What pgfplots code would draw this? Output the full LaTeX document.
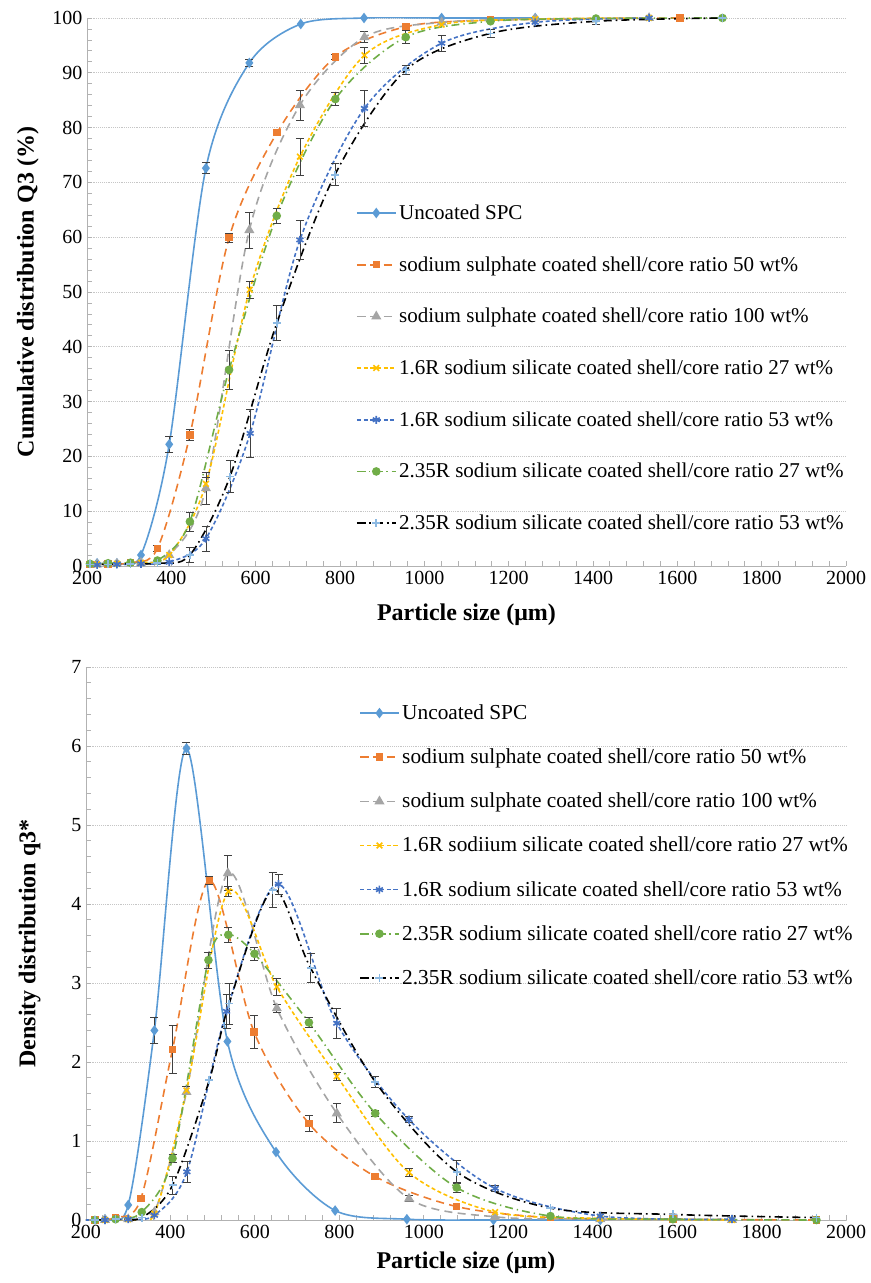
\documentclass[border=0pt]{standalone}
\usepackage{fontspec}
\setmainfont{Liberation Serif}
\usepackage{pgfplots}
\pgfplotsset{compat=1.18}
\definecolor{cA}{HTML}{5B9BD5}
\definecolor{cB}{HTML}{ED7D31}
\definecolor{cC}{HTML}{A5A5A5}
\definecolor{cD}{HTML}{FFC000}
\definecolor{cE}{HTML}{4472C4}
\definecolor{cF}{HTML}{70AD47}
\begin{document}
\begin{tikzpicture}
\path (0pt,0pt) rectangle (652.5pt,962.25pt);
\pgfplotsset{
  common/.style={
    scale only axis,
    axis lines*=left,
    axis line style={gray!60, line width=0.6pt},
    tick style={gray!60, line width=0.6pt},
    tick align=inside,
    major tick length=4pt, minor tick length=4pt,
    xmin=200, xmax=2000, xtick distance=200, minor x tick num=4,
    minor y tick num=4,
    ymajorgrids, grid style={densely dotted, gray!45, line width=0.5pt},
    tick label style={font=\fontsize{15}{18}\selectfont},
    /pgf/number format/assume math mode=true,
    /pgf/number format/set thousands separator={},
    label style={font=\bfseries\fontsize{18}{21}\selectfont},
    legend cell align=left,
    legend image code/.code={\draw[mark repeat=2,mark phase=2,##1] plot coordinates {(0pt,0pt) (14.5pt,0pt) (29pt,0pt)};},
    every axis plot/.append style={line width=1.2pt, smooth, tension=0.5},
    error bars/y dir=both, error bars/y explicit,
    error bars/error bar style={draw=black!75, line width=0.6pt, solid},
    error bars/error mark options={draw=black!75, rotate=90, mark size=3pt, line width=0.6pt, solid},
  },
  sA/.style={cA, mark=diamond*, mark size=3pt, mark options={solid}},
  sB/.style={cB, dash pattern=on 6pt off 4pt, mark=square*, mark size=2.2pt, mark options={solid}},
  sC/.style={cC, dash pattern=on 6pt off 4pt, mark=triangle*, mark size=3.2pt, mark options={solid}},
  sD/.style={cD, dash pattern=on 3pt off 2pt, mark=x, mark size=3pt, mark options={solid}},
  sE/.style={cE, dash pattern=on 3pt off 2pt, mark=asterisk, mark size=3pt, mark options={solid}},
  sF/.style={cF, dash pattern=on 6pt off 3pt on 1pt off 3pt, mark=*, mark size=2.6pt, mark options={solid}},
  sG/.style={black, dash pattern=on 6pt off 3pt on 1.2pt off 3pt, mark=+, mark size=3pt, mark options={solid, cA!70}},
  eb/.style={forget plot, draw=none, mark=none},
}
% ---------------- Top: cumulative ----------------
\begin{axis}[common, at={(65.25pt,537.75pt)}, anchor=south west,
  width=569.25pt, height=411pt,
  ymin=0, ymax=100, ytick distance=10,
  xlabel={Particle size (μm)}, ylabel={Cumulative distribution Q3 (\%)},
  xlabel style={at={(axis description cs:0.5,-0.0894)}, anchor=center},
  ylabel style={at={(axis description cs:-0.078,0.5)}, anchor=center},
  legend style={at={(0.349,0.6695)}, anchor=north west, draw=none, fill=none,
    font=\fontsize{15.8}{19}\selectfont, row sep=22.3pt, cells={anchor=west}},
]
\addplot[sA] coordinates {(224,0.5)(271,0.5)(328,2.0)(395,22.2)(482,72.6)(585,91.8)(707,98.9)(857,100)(1041,100)(1263,100)};
\addlegendentry{Uncoated SPC}
\addplot[sB] coordinates {(207,0.3)(250,0.4)(303,0.6)(367,3.2)(444,23.9)(537,59.9)(651,79.1)(789,92.9)(956,98.4)(1157,99.6)(1606,100)};
\addlegendentry{sodium sulphate coated shell/core ratio 50 wt\%}
\addplot[sC] coordinates {(224,0.3)(271,0.4)(328,0.6)(395,2.0)(482,14.2)(585,61.3)(705,84.1)(858,96.5)(1041,99.2)(1263,99.8)(1533,100)};
\addlegendentry{sodium sulphate coated shell/core ratio 100 wt\%}
\addplot[sD] coordinates {(224,0.3)(271,0.4)(328,0.6)(395,2.0)(482,15.0)(586,50.4)(705,74.7)(858,93.2)(1041,98.8)(1263,99.8)(1533,100)};
\addlegendentry{1.6R sodium silicate coated shell/core ratio 27 wt\%}
\addplot[sE] coordinates {(224,0.2)(271,0.3)(328,0.4)(395,0.7)(482,5.0)(587,24.2)(705,59.5)(858,83.5)(1041,95.4)(1263,99.2)(1533,100)};
\addlegendentry{1.6R sodium silicate coated shell/core ratio 53 wt\%}
\addplot[sF] coordinates {(207,0.4)(250,0.5)(303,0.6)(367,1.0)(444,8.1)(537,35.8)(650,63.9)(789,85.2)(956,96.5)(1157,99.4)(1407,99.9)(1707,100)};
\addlegendentry{2.35R sodium silicate coated shell/core ratio 27 wt\%}
\addplot[sG] coordinates {(207,0.3)(250,0.3)(303,0.4)(367,0.5)(444,2.0)(539,16.3)(650,44.3)(788,71.4)(956,90.5)(1157,97.2)(1407,99.4)(1707,100)};
\addlegendentry{2.35R sodium silicate coated shell/core ratio 53 wt\%}
% error bars
\addplot[eb] coordinates {(395,22.2)+-(0,1.5) (482,72.6)+-(0,1.0) (585,91.8)+-(0,0.6)};
\addplot[eb] coordinates {(367,3.2)+-(0,0.6) (444,23.9)+-(0,1.0) (537,59.9)+-(0,0.8) (651,79.1)+-(0,0.6) (789,92.9)+-(0,0.5)};
\addplot[eb] coordinates {(482,14.2)+-(0,2.9) (585,61.3)+-(0,3.3) (705,84.1)+-(0,2.7) (858,96.5)+-(0,1.0)};
\addplot[eb] coordinates {(482,15.0)+-(0,1.2) (586,50.4)+-(0,1.5) (705,74.7)+-(0,3.4) (858,93.2)+-(0,1.5)};
\addplot[eb] coordinates {(482,5.0)+-(0,2.3) (587,24.2)+-(0,4.4) (705,59.5)+-(0,3.6) (858,83.5)+-(0,3.3) (1041,95.4)+-(0,1.5)};
\addplot[eb] coordinates {(444,8.1)+-(0,1.7) (537,35.8)+-(0,3.5) (650,63.9)+-(0,1.4) (789,85.2)+-(0,1.2) (956,96.5)+-(0,1.2)};
\addplot[eb] coordinates {(444,2.0)+-(0,1.4) (539,16.3)+-(0,2.9) (650,44.3)+-(0,3.2) (788,71.4)+-(0,2.0) (956,90.5)+-(0,0.8) (1157,97.2)+-(0,0.8) (1407,99.4)+-(0,0.6)};
\end{axis}
% ---------------- Bottom: density ----------------
\begin{axis}[common, at={(64.5pt,47.25pt)}, anchor=south west,
  width=570pt, height=414.75pt,
  ymin=0, ymax=7, ytick distance=1,
  xlabel={Particle size (μm)}, ylabel={Density distribution q3*},
  xlabel style={at={(axis description cs:0.5,-0.0778)}, anchor=center},
  ylabel style={at={(axis description cs:-0.074,0.5)}, anchor=center},
  legend style={at={(0.354,0.942)}, anchor=north west, draw=none, fill=none,
    font=\fontsize{16}{19}\selectfont, row sep=16.5pt, cells={anchor=west}},
]
\addplot[sA] coordinates {(198,0)(245,0.01)(300,0.19)(362,2.4)(438,5.97)(535,2.26)(650,0.86)(790,0.12)(960,0.01)(1165,0)(1418,0)};
\addlegendentry{Uncoated SPC}
\addplot[sB] coordinates {(221,0)(270,0.03)(330,0.27)(405,2.16)(492,4.30)(598,2.38)(728,1.22)(885,0.55)(1078,0.17)(1300,0.03)(1590,0.01)(1930,0)};
\addlegendentry{sodium sulphate coated shell/core ratio 50 wt\%}
\addplot[sC] coordinates {(198,0)(245,0)(300,0.01)(362,0.1)(438,1.62)(536,4.39)(652,2.68)(794,1.35)(965,0.27)(1169,0.04)(1418,0.01)(1730,0)};
\addlegendentry{sodium sulphate coated shell/core ratio 100 wt\%}
\addplot[sD] coordinates {(198,0)(245,0)(300,0.01)(362,0.08)(438,1.64)(537,4.16)(652,2.95)(794,1.82)(965,0.6)(1169,0.1)(1418,0.02)(1730,0)};
\addlegendentry{1.6R sodiium silicate coated shell/core ratio 27 wt\%}
\addplot[sE] coordinates {(198,0)(245,0)(300,0.01)(362,0.06)(439,0.61)(533,2.64)(656,4.25)(794,2.49)(965,1.27)(1169,0.4)(1418,0.05)(1730,0.01)};
\addlegendentry{1.6R sodium silicate coated shell/core ratio 53 wt\%}
\addplot[sF] coordinates {(221,0)(270,0.01)(332,0.1)(405,0.78)(490,3.29)(537,3.61)(599,3.37)(728,2.5)(885,1.35)(1078,0.41)(1300,0.05)(1590,0.01)(1930,0)};
\addlegendentry{2.35R sodium silicate coated shell/core ratio 27 wt\%}
\addplot[sG] coordinates {(221,0)(270,0.01)(332,0.03)(405,0.44)(492,1.77)(539,2.74)(642,4.18)(732,3.19)(885,1.75)(1078,0.61)(1300,0.15)(1590,0.07)(1930,0.03)};
\addlegendentry{2.35R sodium silicate coated shell/core ratio 53 wt\%}
% error bars
\addplot[eb] coordinates {(362,2.4)+-(0,0.17) (438,5.97)+-(0,0.08)};
\addplot[eb] coordinates {(405,2.16)+-(0,0.3) (492,4.30)+-(0,0.05) (598,2.38)+-(0,0.21) (728,1.22)+-(0,0.1) (885,0.55)+-(0,0.04)};
\addplot[eb] coordinates {(536,4.39)+-(0,0.22) (652,2.68)+-(0,0.05) (794,1.35)+-(0,0.12) (965,0.27)+-(0,0.04)};
\addplot[eb] coordinates {(438,1.64)+-(0,0.05) (537,4.16)+-(0,0.06) (652,2.95)+-(0,0.11) (794,1.82)+-(0,0.05) (965,0.6)+-(0,0.05)};
\addplot[eb] coordinates {(439,0.61)+-(0,0.13) (533,2.64)+-(0,0.22) (656,4.25)+-(0,0.13) (794,2.49)+-(0,0.19) (965,1.27)+-(0,0.04) (1169,0.4)+-(0,0.04)};
\addplot[eb] coordinates {(405,0.78)+-(0,0.05) (490,3.29)+-(0,0.1) (537,3.61)+-(0,0.1) (599,3.37)+-(0,0.08) (728,2.5)+-(0,0.06) (885,1.35)+-(0,0.04) (1078,0.41)+-(0,0.06)};
\addplot[eb] coordinates {(405,0.44)+-(0,0.11) (539,2.74)+-(0,0.26) (642,4.18)+-(0,0.22) (732,3.19)+-(0,0.18) (885,1.75)+-(0,0.07) (1078,0.61)+-(0,0.15)};
\end{axis}
\end{tikzpicture}
\end{document}
